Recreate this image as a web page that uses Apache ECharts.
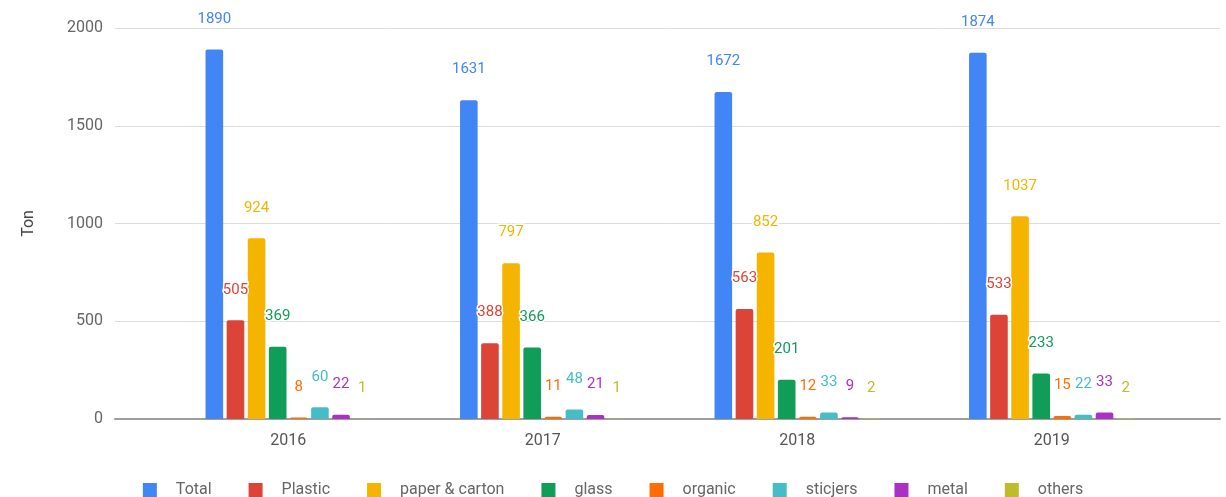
<!DOCTYPE html>
<html>
<head>
<meta charset="utf-8">
<script src="https://cdn.jsdelivr.net/npm/echarts@6/dist/echarts.min.js"></script>
<style>html,body{margin:0;padding:0;background:#fff;}#c{width:1226px;height:497px;}</style>
</head>
<body>
<div id="c"></div>
<script>
const years = ['2016', '2017', '2018', '2019'];
const seriesNames = ['Total', 'Plastic', 'paper & carton', 'glass', 'organic', 'sticjers', 'metal', 'others'];
const total = [1890, 1631, 1672, 1874];
const plastic = [505, 388, 563, 533];
const paper = [924, 797, 852, 1037];
const glass = [369, 366, 201, 233];
const organic = [8, 11, 12, 15];
const stickers = [60, 48, 33, 22];
const metal = [22, 21, 9, 33];
const others = [1, 1, 2, 2];
const yTicks = [0, 500, 1000, 1500, 2000];

const colors = ['#4285F4', '#DB4437', '#F4B400', '#0F9D58', '#FF6D01', '#46BDC6', '#AB30C4', '#BDBD2A'];
const values = [total, plastic, paper, glass, organic, stickers, metal, others];
const FONT = 'Roboto, "Noto Sans", sans-serif';

const chart = echarts.init(document.getElementById('c'), null, {renderer: 'canvas'});
const series = seriesNames.map((n, i) => ({
  name: n,
  type: 'bar',
  xAxisIndex: 1,
  yAxisIndex: 1,
  data: values[i],
  barCategoryGap: '35%',
  barGap: '20%',
  itemStyle: {color: colors[i], borderRadius: [2, 2, 0, 0]},
  label: {
    show: true,
    position: 'top',
    distance: 23,
    color: colors[i],
    fontFamily: FONT,
    fontSize: 15,
    textBorderColor: '#fff',
    textBorderWidth: 3
  }
}));

chart.setOption({
  animation: false,
  color: colors,
  textStyle: {fontFamily: FONT},
  grid: [
    {left: 115, right: 6, top: 28, bottom: 78},
    {left: 161, right: 47, top: 28, bottom: 78}
  ],
  xAxis: [
    {gridIndex: 0, type: 'value', min: 0, max: 1,
     axisLine: {show: true, lineStyle: {color: '#9e9e9e', width: 2}},
     axisTick: {show: false}, axisLabel: {show: false}, splitLine: {show: false}},
    {gridIndex: 1, type: 'category', data: years,
     axisLine: {show: false}, axisTick: {show: false},
     axisLabel: {color: '#555', fontSize: 16, margin: 14, fontFamily: FONT}}
  ],
  yAxis: [
    {gridIndex: 0, type: 'value', min: yTicks[0], max: yTicks[yTicks.length - 1], interval: 500,
     name: 'Ton', nameLocation: 'middle', nameRotate: 90, nameGap: 78,
     nameTextStyle: {color: '#444', fontSize: 16, fontFamily: FONT},
     axisLine: {show: false}, axisTick: {show: false},
     axisLabel: {color: '#666', fontSize: 16, margin: 12, fontFamily: FONT,
                 formatter: v => String(v)},
     splitLine: {lineStyle: {color: '#dcdcdc', width: 1}}},
    {gridIndex: 1, type: 'value', min: 0, max: 2000, interval: 500, show: false,
     splitLine: {show: false}}
  ],
  legend: {
    top: 477,
    left: 'center',
    itemWidth: 14,
    itemHeight: 14,
    itemGap: 37,
    icon: 'rect',
    data: seriesNames,
    textStyle: {color: '#666', fontSize: 16, fontFamily: FONT, padding: [0, 0, 0, 14]}
  },
  series: series
});
</script>
</body>
</html>
